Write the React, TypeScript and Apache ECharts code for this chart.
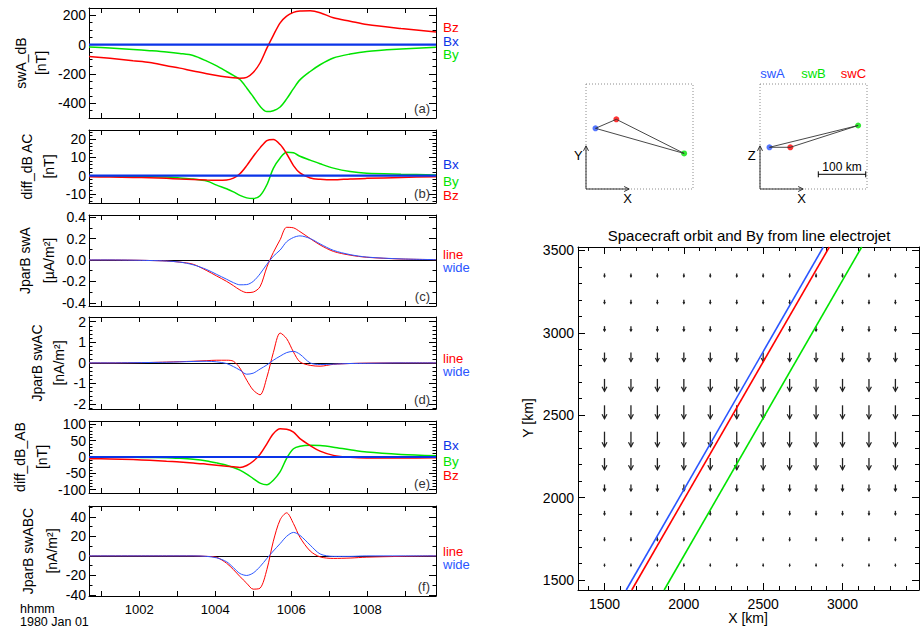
import React, { useEffect, useRef } from 'react';
import * as echarts from 'echarts';

const FONT = "'Liberation Sans', Arial, Helvetica, sans-serif";
const RED = '#ff0000';
const GREEN = '#00e400';
const BLUE = '#2a55ff';
const BXBLUE = '#0a34e8';

// ---------- time series (minutes after 10:00, 1980 Jan 01) ----------
const minutes = [0.68, 1.23, 1.84, 2.28, 2.72, 3.07, 3.42, 3.78, 4.04, 4.30, 4.48, 4.65, 4.83, 5.00, 5.18, 5.36, 5.53, 5.71, 5.88, 6.06, 6.23, 6.50, 6.76, 7.11, 7.55, 7.99, 8.89, 9.81];
const T_MIN = 0.68;
const T_MAX = 9.81;
const minuteTicks = [1, 2, 3, 4, 5, 6, 7, 8, 9];
const minuteLabels = [2, 4, 6, 8];

// (a) swA_dB [nT]
const bxSwA = [0, 0, 0, 0, 0, 0, 0, 0, 0, 0, 0, 0, 0, 0, 0, 0, 0, 0, 0, 0, 0, 0, 0, 0, 0, 0, 0, 0];
const bySwA = [-16, -23, -33, -41, -50, -60, -74, -112, -145, -183, -210, -238, -295, -355, -420, -456, -450, -425, -370, -300, -240, -183, -137, -91, -64, -46, -30, -18];
const bzSwA = [-80, -93, -110, -122, -144, -160, -180, -198, -210, -220, -226, -229, -223, -190, -125, -24, 64, 149, 195, 220, 229, 231, 218, 183, 160, 137, 110, 87];

// (b) diff_dB AC [nT]
const bxDiffAC = [0, 0, 0, 0, 0, 0, 0, 0, 0, 0, 0, 0, 0, 0, 0, 0, 0, 0, 0, 0, 0, 0, 0, 0, 0, 0, 0, 0];
const byDiffAC = [-0.3, -0.4, -0.5, -0.6, -0.8, -1.3, -1.9, -3.0, -5.2, -7.2, -8.9, -10.8, -12.2, -12.6, -11, -5, 4, 9.7, 12.8, 12.5, 10.6, 8.5, 6.5, 4.1, 2.2, 1.3, 0.8, 0.4];
const bzDiffAC = [-0.6, -0.8, -1.0, -1.2, -1.5, -1.8, -2.1, -2.4, -2.5, -2.4, -1.4, 1.0, 5.5, 10.5, 15.2, 19.2, 19.8, 17, 12, 5.5, 1.5, -1.3, -2.0, -2.3, -1.8, -1.5, -1.0, -0.6];

// (c) JparB swA [uA/m2]
const jLineSwA = [0, 0, -0.002, -0.005, -0.01, -0.02, -0.04, -0.1, -0.15, -0.2, -0.24, -0.28, -0.305, -0.3, -0.25, -0.067, 0.07, 0.19, 0.305, 0.3, 0.265, 0.2, 0.14, 0.08, 0.045, 0.025, 0.009, 0.003];
const jWideSwA = [0, 0, -0.002, -0.005, -0.01, -0.02, -0.045, -0.09, -0.135, -0.18, -0.212, -0.232, -0.23, -0.2, -0.13, -0.04, 0.035, 0.093, 0.17, 0.21, 0.225, 0.2, 0.15, 0.09, 0.05, 0.027, 0.01, 0.003];

// (d) JparB swAC [nA/m2]
const jLineSwAC = [0, 0, 0.01, 0.02, 0.04, 0.06, 0.08, 0.11, 0.13, 0.13, 0.08, -0.25, -0.84, -1.32, -1.55, -0.7, 0.5, 1.45, 1.18, 0.53, 0.05, -0.12, -0.16, -0.07, -0.03, -0.01, 0, 0];
const jWideSwAC = [0, 0, 0.01, 0.02, 0.03, 0.05, 0.07, 0.08, 0.05, -0.03, -0.18, -0.35, -0.55, -0.5, -0.3, -0.1, 0.13, 0.33, 0.5, 0.56, 0.42, 0, -0.08, -0.06, -0.03, -0.02, 0, 0];

// (e) diff_dB_AB [nT]
const bxDiffAB = [0, 0, 0, 0, 0, 0, 0, 0, 0, 0, 0, 0, 0, 0, 0, 0, 0, 0, 0, 0, 0, 0, 0, 0, 0, 0, 0, 0];
const byDiffAB = [-1, -1, -1, -1.5, -2, -4, -7, -12, -18, -25, -32, -40, -52, -66, -80, -85, -71, -45, -4, 25, 33, 36, 35, 30, 22, 15, 8, 4];
const bzDiffAB = [-5, -6, -8, -10, -13, -15, -18, -22, -25, -28, -30, -32, -26, -13, 8, 40, 71, 86, 85, 76, 56, 35, 18, 5, -1, -3, -3, -2];

// (f) JparB swABC [nA/m2]
const jLineSwABC = [0, 0, 0, 0, 0, 0, 0, -0.5, -1.5, -7.5, -14, -21, -28, -34, -33, -14, 15, 37, 44, 33, 19, 5, -1, -2.6, -2.2, -1.3, -0.5, 0];
const jWideSwABC = [0, 0, 0, 0, 0, 0, 0, -0.5, -2, -6, -12, -18, -20, -17.5, -11, -2.6, 5, 12.6, 20, 24, 21, 11, 2, -0.5, -0.5, 0, 0, 0];

// ---------- map: orbit and By from line electrojet ----------
const mapXTicks = [1500, 2000, 2500, 3000];
const mapYTicks = [1500, 2000, 2500, 3000, 3500];
const arrowCols = [1500, 1666.7, 1833.3, 2000, 2166.7, 2333.3, 2500, 2666.7, 2833.3, 3000, 3166.7, 3333.3];
const arrowRows = [1600, 1760, 1920, 2080, 2240, 2400, 2560, 2720, 2880, 3040, 3200, 3360];
const byArrow = [-14, -20, -24, -40, -71, -91, -81, -75, -55, -30, -22, -20];
const orbitSwA = [[1637, 1440], [2879, 3520]];
const orbitSwC = [[1672, 1440], [2917, 3520]];
const orbitSwB = [[1876, 1440], [3121, 3520]];

// ---------- constellation (relative positions, km) ----------
const scNames = ['swA', 'swB', 'swC'];
const scX = [20, 207, 64];
const scY = [128, 75, 147];
const scZ = [88, 134, 88];
const scaleBarKm = 100;

const range = (a: number, b: number, step: number) => {
  const out: number[] = [];
  const n = Math.round((b - a) / step);
  for (let i = 0; i <= n; i++) out.push(+(a + i * step).toFixed(6));
  return out;
};
const zip = (t: number[], v: number[]) => t.map((x, i) => [x, v[i]]);

const LEFT = 89;
const WIDTH = 347;

const panels = [
  {
    top: 8, height: 110, min: -500, max: 250, majors: [-400, -200, 0, 200], minors: range(-500, 250, 50),
    fmt: (v: number) => String(v), title: ['swA_dB', '[nT]'], titleX: [21, 41], tag: '(a)',
    curves: [
      { d: bySwA, c: GREEN, w: 1.5, zero: true }, { d: bzSwA, c: RED, w: 1.5 }, { d: bxSwA, c: BXBLUE, w: 2.2 },
    ],
    legend: [['Bz', RED, 27.3, 13.5], ['Bx', BXBLUE, 41, 13.5], ['By', GREEN, 54.7, 13.5]],
  },
  {
    top: 130, height: 73, min: -15, max: 25, majors: [-10, 0, 10, 20], minors: range(-14, 24, 2),
    fmt: (v: number) => String(v), title: ['diff_dB AC', '[nT]'], titleX: [27, 49], tag: '(b)',
    curves: [
      { d: byDiffAC, c: GREEN, w: 1.5, zero: true }, { d: bzDiffAC, c: RED, w: 1.5 }, { d: bxDiffAC, c: BXBLUE, w: 2.2 },
    ],
    legend: [['Bx', BXBLUE, 164.3, 13.5], ['By', GREEN, 181, 13.5], ['Bz', RED, 195, 13.5]],
  },
  {
    top: 215, height: 91, min: -0.43, max: 0.42, majors: [-0.4, -0.2, 0, 0.2, 0.4], minors: range(-0.4, 0.4, 0.1),
    fmt: (v: number) => v.toFixed(1), title: ['JparB swA', '[\u00b5A/m\u00b2]'], titleX: [25, 49], tag: '(c)',
    curves: [{ d: jLineSwA, c: RED, w: 1, zero: true }, { d: jWideSwA, c: BLUE, w: 1 }],
    legend: [['line', RED, 254, 13], ['wide', BLUE, 267.5, 13]],
  },
  {
    top: 317, height: 92, min: -2.24, max: 2.23, majors: [-2, -1, 0, 1, 2], minors: range(-2.2, 2.2, 0.2),
    fmt: (v: number) => String(v), title: ['JparB swAC', '[nA/m\u00b2]'], titleX: [37, 59], tag: '(d)',
    curves: [{ d: jLineSwAC, c: RED, w: 1, zero: true }, { d: jWideSwAC, c: BLUE, w: 1 }],
    legend: [['line', RED, 358, 13], ['wide', BLUE, 371.5, 13]],
  },
  {
    top: 421, height: 72, min: -110, max: 110, majors: [-100, -50, 0, 50, 100], minors: range(-110, 110, 10),
    fmt: (v: number) => String(v), title: ['diff_dB_AB', '[nT]'], titleX: [20, 42], tag: '(e)',
    curves: [
      { d: byDiffAB, c: GREEN, w: 1.5, zero: true }, { d: bzDiffAB, c: RED, w: 1.5 }, { d: bxDiffAB, c: BXBLUE, w: 2.2 },
    ],
    legend: [['Bx', BXBLUE, 445, 13.5], ['By', GREEN, 461.5, 13.5], ['Bz', RED, 475.7, 13.5]],
  },
  {
    top: 506, height: 90, min: -41, max: 51, majors: [-40, -20, 0, 20, 40], minors: range(-40, 50, 10),
    fmt: (v: number) => String(v), title: ['JparB swABC', '[nA/m\u00b2]'], titleX: [28, 52], tag: '(f)',
    curves: [{ d: jLineSwABC, c: RED, w: 1, zero: true }, { d: jWideSwABC, c: BLUE, w: 1 }],
    legend: [['line', RED, 551, 13], ['wide', BLUE, 564.5, 13]],
  },
];

const txt = (x: number, y: number, text: string, o: any = {}) => ({
  type: 'text', x, y, rotation: o.rot || 0, silent: true,
  style: {
    text, fill: o.color || '#000', fontSize: o.size || 14, fontFamily: FONT,
    textAlign: o.align || 'left', textVerticalAlign: 'middle', align: o.align || 'left', verticalAlign: 'middle',
  },
});

const arrowHead = (p1: number[], ang: number, h: number, w: number) => {
  const bx = p1[0] - h * Math.cos(ang), by = p1[1] - h * Math.sin(ang);
  const nx = -Math.sin(ang) * w, ny = Math.cos(ang) * w;
  return [[bx + nx, by + ny], [p1[0], p1[1]], [bx - nx, by - ny]];
};

function buildOption() {
  const grid: any[] = [];
  const xAxis: any[] = [];
  const yAxis: any[] = [];
  const series: any[] = [];
  const graphic: any[] = [];
  const black = { color: '#000', width: 1 };

  panels.forEach((p, i) => {
    const gi = grid.length;
    grid.push({ left: LEFT, top: p.top, width: WIDTH, height: p.height, show: false });
    const xc = {
      type: 'value', gridIndex: gi, min: T_MIN, max: T_MAX, splitLine: { show: false },
      axisLine: { show: true, onZero: false, lineStyle: black },
      axisTick: { show: true, inside: true, length: 5, customValues: minuteTicks, lineStyle: black },
    };
    const xi = xAxis.length;
    xAxis.push({
      ...xc, position: 'bottom',
      axisLabel: i === panels.length - 1
        ? { show: true, customValues: minuteLabels, formatter: (v: number) => '10' + String(v).padStart(2, '0'), fontSize: 13, fontFamily: FONT, color: '#000', margin: 7 }
        : { show: false },
    });
    xAxis.push({ ...xc, position: 'top', axisLabel: { show: false } });
    const yc = {
      type: 'value', gridIndex: gi, min: p.min, max: p.max, splitLine: { show: false },
      axisLine: { show: true, onZero: false, lineStyle: black }, axisLabel: { show: false },
    };
    const yi = yAxis.length;
    yAxis.push({
      ...yc, position: 'left',
      axisTick: { show: true, inside: true, length: 7, customValues: p.majors, lineStyle: black },
      axisLabel: { show: true, customValues: p.majors, formatter: p.fmt, fontSize: 14, fontFamily: FONT, color: '#000', margin: 3 },
    });
    yAxis.push({ ...yc, position: 'left', axisLine: { show: false }, axisTick: { show: true, inside: true, length: 3.5, customValues: p.minors, lineStyle: black } });
    yAxis.push({ ...yc, position: 'right', axisTick: { show: true, inside: true, length: 7, customValues: p.majors, lineStyle: black } });
    yAxis.push({ ...yc, position: 'right', axisLine: { show: false }, axisTick: { show: true, inside: true, length: 3.5, customValues: p.minors, lineStyle: black } });

    p.curves.forEach((c: any) => {
      series.push({
        type: 'line', xAxisIndex: xi, yAxisIndex: yi, data: zip(minutes, c.d), showSymbol: false, smooth: 0.3,
        lineStyle: { color: c.c, width: c.w }, itemStyle: { color: c.c }, silent: true, clip: true,
        markLine: c.zero ? {
          silent: true, symbol: 'none', label: { show: false }, z: 1,
          lineStyle: { color: '#000', width: 1, type: 'solid' }, data: [{ yAxis: 0 }],
        } : undefined,
      });
    });

    const cy = p.top + p.height / 2;
    graphic.push(txt(p.titleX[0], cy, p.title[0], { rot: Math.PI / 2, align: 'center' }));
    graphic.push(txt(p.titleX[1], cy, p.title[1], { rot: Math.PI / 2, align: 'center' }));
    graphic.push(txt(430, p.top + p.height - 10, p.tag, { align: 'right', size: 13, color: '#333' }));
    p.legend.forEach((l: any) => graphic.push(txt(443, l[2], l[0], { color: l[1], size: l[3] })));
  });

  graphic.push(txt(20, 608.5, 'hhmm', { size: 12.5 }));
  graphic.push(txt(20, 621.5, '1980 Jan 01', { size: 12.5 }));

  // ---------- map grid ----------
  const mg = grid.length;
  grid.push({ left: 578, top: 247, width: 341, height: 343, show: false });
  const mxc = { type: 'value', gridIndex: mg, min: 1333, max: 3482, splitLine: { show: false }, axisLine: { show: true, onZero: false, lineStyle: black }, axisLabel: { show: false } };
  const plain = (v: number) => String(v);
  const mxi = xAxis.length;
  xAxis.push({
    ...mxc, position: 'bottom', axisTick: { show: true, inside: true, length: 7, customValues: mapXTicks, lineStyle: black },
    axisLabel: { show: true, customValues: mapXTicks, formatter: plain, fontSize: 14, fontFamily: FONT, color: '#000', margin: 7 },
  });
  xAxis.push({ ...mxc, position: 'bottom', axisLine: { show: false }, axisTick: { show: true, inside: true, length: 4, customValues: range(1400, 3400, 100), lineStyle: black } });
  xAxis.push({ ...mxc, position: 'top', axisTick: { show: true, inside: true, length: 7, customValues: mapXTicks, lineStyle: black } });
  xAxis.push({ ...mxc, position: 'top', axisLine: { show: false }, axisTick: { show: true, inside: true, length: 4, customValues: range(1400, 3400, 100), lineStyle: black } });
  const myc = { type: 'value', gridIndex: mg, min: 1440, max: 3520, splitLine: { show: false }, axisLine: { show: true, onZero: false, lineStyle: black }, axisLabel: { show: false } };
  const myi = yAxis.length;
  yAxis.push({
    ...myc, position: 'left', axisTick: { show: true, inside: true, length: 7, customValues: mapYTicks, lineStyle: black },
    axisLabel: { show: true, customValues: mapYTicks, formatter: plain, fontSize: 14, fontFamily: FONT, color: '#000', margin: 4 },
  });
  yAxis.push({ ...myc, position: 'left', axisLine: { show: false }, axisTick: { show: true, inside: true, length: 4, customValues: range(1500, 3500, 100), lineStyle: black } });
  yAxis.push({ ...myc, position: 'right', axisTick: { show: true, inside: true, length: 7, customValues: mapYTicks, lineStyle: black } });
  yAxis.push({ ...myc, position: 'right', axisLine: { show: false }, axisTick: { show: true, inside: true, length: 4, customValues: range(1500, 3500, 100), lineStyle: black } });

  const arrowData: number[][] = [];
  arrowRows.forEach((y, j) => arrowCols.forEach((x) => arrowData.push([x, y, byArrow[j]])));
  series.push({
    type: 'custom', xAxisIndex: mxi, yAxisIndex: myi, data: arrowData, silent: true,
    encode: { x: 0, y: 1 },
    renderItem: (_p: any, api: any) => {
      const x = api.value(0), y = api.value(1), b = api.value(2);
      const p0 = api.coord([x, y]);
      const p1 = api.coord([x, y + b]);
      const len = Math.hypot(p1[0] - p0[0], p1[1] - p0[1]);
      const ang = Math.atan2(p1[1] - p0[1], p1[0] - p0[0]);
      const h = Math.min(4.5, len * 0.4);
      return {
        type: 'group', children: [
          { type: 'line', shape: { x1: p0[0], y1: p0[1], x2: p1[0], y2: p1[1] }, style: { stroke: '#222', lineWidth: 1.3 } },
          { type: 'polyline', shape: { points: arrowHead(p1, ang, h, h * 0.55) }, style: { stroke: '#222', lineWidth: 1.2, fill: null } },
        ],
      };
    },
  });
  [[orbitSwA, BLUE], [orbitSwC, RED], [orbitSwB, GREEN]].forEach(([d, c]: any) => {
    series.push({
      type: 'line', xAxisIndex: mxi, yAxisIndex: myi, data: d, showSymbol: false, silent: true, clip: true,
      lineStyle: { color: c, width: 1.6 },
    });
  });
  graphic.push(txt(749, 235, 'Spacecraft orbit and By from line electrojet', { align: 'center', size: 15 }));
  graphic.push(txt(748, 618, 'X [km]', { align: 'center', size: 14 }));
  graphic.push(txt(528, 418, 'Y [km]', { align: 'center', size: 14, rot: Math.PI / 2 }));

  // ---------- constellation boxes ----------
  const boxes = [
    { left: 586, v: scY, lab: 'Y', labX: 578.3, xLabX: 627.7, bar: false },
    { left: 760, v: scZ, lab: 'Z', labX: 751.7, xLabX: 801.7, bar: true },
  ];
  const colors = [BLUE, GREEN, RED];
  boxes.forEach((b) => {
    const bg = grid.length;
    grid.push({ left: b.left, top: 84, width: 107, height: 105, show: true, borderColor: '#8c8c8c', borderWidth: 1, borderType: [1, 2], backgroundColor: 'transparent' });
    const bxi = xAxis.length;
    xAxis.push({ type: 'value', gridIndex: bg, min: 0, max: 225.7, show: false });
    const byi = yAxis.length;
    yAxis.push({ type: 'value', gridIndex: bg, min: 0, max: 221.5, show: false });
    series.push({
      type: 'custom', xAxisIndex: bxi, yAxisIndex: byi, silent: true, encode: { x: [0, 2], y: [1, 3] },
      data: [[0, 0, 0, 91], [0, 0, 91, 0]],
      renderItem: (_p: any, api: any) => {
        const p0 = api.coord([api.value(0), api.value(1)]);
        const p1 = api.coord([api.value(2), api.value(3)]);
        const ang = Math.atan2(p1[1] - p0[1], p1[0] - p0[0]);
        return {
          type: 'group', children: [
            { type: 'line', shape: { x1: p0[0], y1: p0[1], x2: p1[0], y2: p1[1] }, style: { stroke: '#333', lineWidth: 1 } },
            { type: 'polyline', shape: { points: arrowHead(p1, ang, 5, 2.5) }, style: { stroke: '#333', lineWidth: 1, fill: null } },
          ],
        };
      },
    });
    series.push({
      type: 'line', xAxisIndex: bxi, yAxisIndex: byi, silent: true, showSymbol: false,
      data: [0, 2, 1, 0].map((k) => [scX[k], b.v[k]]),
      lineStyle: { color: '#333', width: 0.9 },
    });
    series.push({
      type: 'scatter', xAxisIndex: bxi, yAxisIndex: byi, silent: true, symbolSize: 6,
      data: scNames.map((n, k) => ({ name: n, value: [scX[k], b.v[k]], itemStyle: { color: colors[k] } })),
    });
    if (b.bar) {
      series.push({
        type: 'custom', xAxisIndex: bxi, yAxisIndex: byi, silent: true, encode: { x: [0, 2], y: [1, 3] },
        data: [[123, 31, 123 + scaleBarKm, 31]],
        renderItem: (_p: any, api: any) => {
          const p0 = api.coord([api.value(0), api.value(1)]);
          const p1 = api.coord([api.value(2), api.value(3)]);
          return {
            type: 'group', children: [
              { type: 'line', shape: { x1: p0[0], y1: p0[1], x2: p1[0], y2: p1[1] }, style: { stroke: '#000', lineWidth: 1 } },
              { type: 'line', shape: { x1: p0[0], y1: p0[1] - 3, x2: p0[0], y2: p0[1] + 3 }, style: { stroke: '#000', lineWidth: 1 } },
              { type: 'line', shape: { x1: p1[0], y1: p1[1] - 3, x2: p1[0], y2: p1[1] + 3 }, style: { stroke: '#000', lineWidth: 1 } },
              { type: 'text', x: (p0[0] + p1[0]) / 2, y: p0[1] - 7, style: { text: scaleBarKm + ' km', fontSize: 12, fontFamily: FONT, fill: '#000', align: 'center', verticalAlign: 'middle', textAlign: 'center', textVerticalAlign: 'middle' } },
            ],
          };
        },
      });
    }
    graphic.push(txt(b.labX, 155, b.lab, { align: 'center', size: 13 }));
    graphic.push(txt(b.xLabX, 198.5, 'X', { align: 'center', size: 13 }));
  });
  graphic.push(txt(772.5, 73, scNames[0], { align: 'center', size: 13, color: BLUE }));
  graphic.push(txt(813.5, 73, scNames[1], { align: 'center', size: 13, color: GREEN }));
  graphic.push(txt(853.5, 73, scNames[2], { align: 'center', size: 13, color: RED }));

  return { animation: false, backgroundColor: '#fff', grid, xAxis, yAxis, series, graphic };
}

export default function App() {
  const ref = useRef<HTMLDivElement>(null);
  useEffect(() => {
    const chart = echarts.init(ref.current as HTMLDivElement, null, { renderer: 'svg' });
    chart.setOption(buildOption() as any);
    return () => chart.dispose();
  }, []);
  return (
    <div
      ref={ref}
      style={{ position: 'fixed', left: 0, top: 0, width: 922, height: 630, background: '#fff' }}
    />
  );
}
